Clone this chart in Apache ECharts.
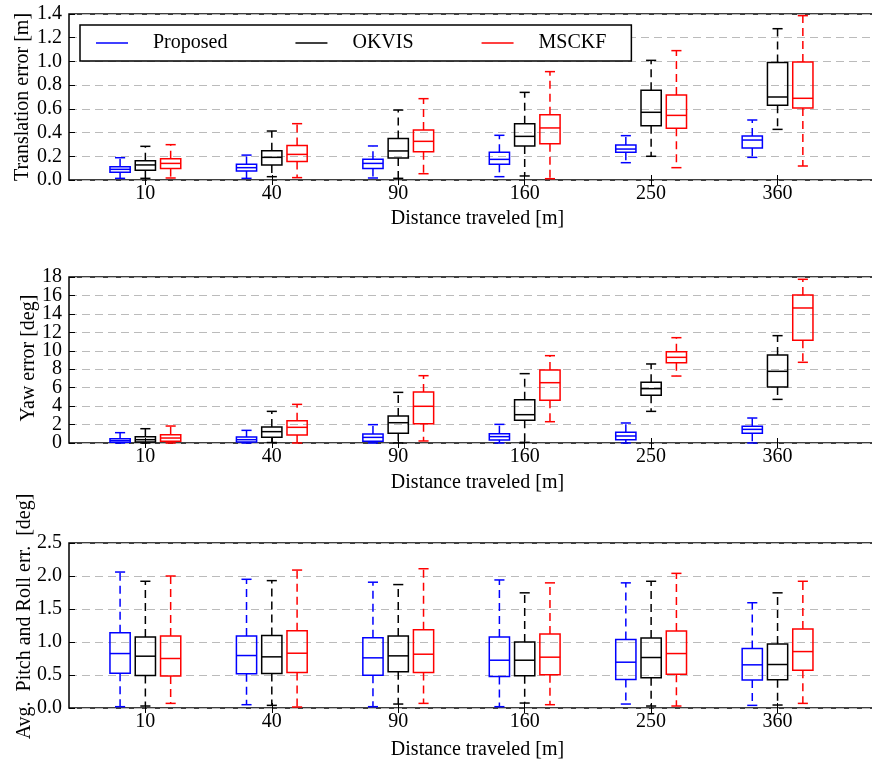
<!DOCTYPE html>
<html><head><meta charset="utf-8">
<script src="https://cdn.jsdelivr.net/npm/echarts@6/dist/echarts.min.js"></script>
<style>html,body{margin:0;padding:0;background:#fff}#c{width:872px;height:760px}</style>
</head><body><div id="c"></div>
<script>
// Categories (distance traveled [m])
var categories = ['10', '40', '90', '160', '250', '360'];
var seriesNames = ['Proposed', 'OKVIS', 'MSCKF'];
var seriesColors = ['#0000ff', '#000000', '#ff0000'];

// Each entry: [lowerWhisker, Q1, median, Q3, upperWhisker]
// Translation error [m]
var transProposed = [[0.014,0.065,0.090,0.112,0.188],[0.014,0.076,0.104,0.132,0.210],[0.017,0.098,0.140,0.174,0.287],[0.028,0.132,0.174,0.233,0.377],[0.146,0.233,0.261,0.295,0.374],[0.191,0.270,0.337,0.371,0.506]];
var transOKVIS    = [[0.014,0.082,0.127,0.163,0.284],[0.028,0.127,0.191,0.247,0.413],[0.014,0.186,0.245,0.351,0.590],[0.034,0.287,0.368,0.475,0.739],[0.200,0.458,0.571,0.756,1.009],[0.427,0.630,0.700,0.992,1.276]];
var transMSCKF    = [[0.017,0.096,0.140,0.180,0.298],[0.020,0.157,0.216,0.290,0.475],[0.053,0.239,0.326,0.422,0.686],[0.011,0.306,0.439,0.551,0.914],[0.104,0.436,0.545,0.717,1.091],[0.118,0.607,0.689,0.995,1.386]];

// Yaw error [deg]
var yawProposed = [[0.00,0.07,0.25,0.47,1.12],[0.00,0.11,0.36,0.65,1.37],[0.00,0.18,0.61,0.98,1.99],[0.00,0.33,0.69,1.01,2.02],[0.00,0.36,0.76,1.16,2.17],[0.00,1.05,1.48,1.81,2.71]];
var yawOKVIS    = [[0.00,0.11,0.36,0.69,1.55],[0.05,0.61,1.23,1.73,3.43],[0.00,1.05,2.20,2.93,5.49],[0.07,2.46,3.07,4.70,7.52],[3.43,5.17,5.89,6.58,8.57],[4.73,6.07,7.77,9.54,11.64]];
var yawMSCKF    = [[0.00,0.18,0.54,0.90,1.84],[0.00,0.87,1.70,2.42,4.19],[0.22,2.10,3.98,5.53,7.30],[2.31,4.63,6.54,7.91,9.47],[7.26,8.71,9.29,9.90,11.42],[8.75,11.13,14.64,16.05,17.75]];

// Avg. pitch and roll error [deg]
var prProposed = [[0.02,0.528,0.825,1.14,2.06],[0.05,0.518,0.795,1.09,1.95],[0.02,0.498,0.760,1.066,1.906],[0.02,0.478,0.724,1.076,1.94],[0.06,0.433,0.694,1.036,1.896],[0.04,0.423,0.654,0.90,1.595]];
var prOKVIS    = [[0.03,0.493,0.785,1.076,1.92],[0.04,0.523,0.775,1.097,1.93],[0.06,0.548,0.790,1.09,1.87],[0.075,0.488,0.724,1.00,1.745],[0.03,0.458,0.765,1.06,1.92],[0.045,0.428,0.659,0.97,1.745]];
var prMSCKF    = [[0.07,0.483,0.750,1.09,2.00],[0.015,0.538,0.830,1.17,2.09],[0.07,0.538,0.815,1.187,2.11],[0.05,0.503,0.770,1.12,1.896],[0.03,0.513,0.825,1.167,2.04],[0.07,0.573,0.855,1.197,1.92]];

// Y tick values
var transTicks = [0, 0.2, 0.4, 0.6, 0.8, 1.0, 1.2, 1.4];
var yawTicks = [0, 2, 4, 6, 8, 10, 12, 14, 16, 18];
var prTicks = [0, 0.5, 1.0, 1.5, 2.0, 2.5];

var yTicks = [
  {min:0, max:1.4, interval:0.2, dec:1, ticks: transTicks, name:'Translation error [m]', gap:36, pad:[0,0,0,0]},
  {min:0, max:18, interval:2, dec:0, ticks: yawTicks, name:'Yaw error [deg]', gap:30, pad:[0,0,0,4]},
  {min:0, max:2.5, interval:0.5, dec:1, ticks: prTicks, name:'Avg.  Pitch and Roll err.  [deg]', gap:34, pad:[0,0,0,18]}
];
var panels = [
  [transProposed, transOKVIS, transMSCKF],
  [yawProposed, yawOKVIS, yawMSCKF],
  [prProposed, prOKVIS, prMSCKF]
];

var FONT = 'Liberation Serif';
var FS = 20;
var offsets = [-0.2, 0, 0.2];
var boxW = 0.16;
var gridTops = [14, 277, 543];
var gridHeights = [166, 166, 165];
var xNameGaps = [29, 30, 32];
var catPos = categories.map(function(c, i){ return i + 1; });

function renderBox(color){
  return function(params, api){
    var x = api.value(0);
    var lo = api.value(1), q1 = api.value(2), md = api.value(3), q3 = api.value(4), hi = api.value(5);
    var pLo = api.coord([x, lo]), pQ1 = api.coord([x, q1]), pMd = api.coord([x, md]);
    var pQ3 = api.coord([x, q3]), pHi = api.coord([x, hi]);
    var w = api.size([boxW, 0])[0];
    var cx = pMd[0];
    var st = {stroke: color, lineWidth: 1.5, fill: null};
    var dash = {stroke: color, lineWidth: 1.5, lineDash: [8, 5], fill: null};
    return {type: 'group', children: [
      {type: 'rect', shape: {x: cx - w/2, y: pQ3[1], width: w, height: pQ1[1] - pQ3[1]}, style: st},
      {type: 'line', shape: {x1: cx - w/2, y1: pMd[1], x2: cx + w/2, y2: pMd[1]}, style: st},
      {type: 'line', shape: {x1: cx, y1: pQ3[1], x2: cx, y2: pHi[1]}, style: dash},
      {type: 'line', shape: {x1: cx, y1: pQ1[1], x2: cx, y2: pLo[1]}, style: dash},
      {type: 'line', shape: {x1: cx - w/4, y1: pHi[1], x2: cx + w/4, y2: pHi[1]}, style: st},
      {type: 'line', shape: {x1: cx - w/4, y1: pLo[1], x2: cx + w/4, y2: pLo[1]}, style: st}
    ]};
  };
}

function labelFmt(d){ return function(v){ return v.toFixed(d); }; }

var grids = [], xAxes = [], yAxes = [], series = [];
for (var g = 0; g < 3; g++) {
  grids.push({left: 69, top: gridTops[g], height: gridHeights[g], width: 835, show: true,
    outerBoundsMode: 'none', containLabel: false,
    borderColor: '#000', borderWidth: 1.5, backgroundColor: 'transparent'});
  xAxes.push({type: 'value', gridIndex: g, min: 0.396, max: 7.0, position: 'bottom',
    name: 'Distance traveled [m]', nameLocation: 'middle', nameGap: xNameGaps[g], nameMoveOverlap: false,
    nameTextStyle: {fontFamily: FONT, fontSize: FS, color: '#000', padding: [0, 18, 0, 0]},
    axisLine: {show: false},
    axisTick: {show: true, inside: true, length: 5, customValues: catPos, lineStyle: {color: '#000', width: 1}},
    axisLabel: {show: true, customValues: catPos, margin: 4, fontFamily: FONT, fontSize: FS, color: '#000',
      formatter: function(v){ var i = Math.round(v) - 1; return categories[i] || ''; }},
    splitLine: {show: false}});
  xAxes.push({type: 'value', gridIndex: g, min: 0.396, max: 7.0, position: 'top',
    axisLine: {show: false},
    axisTick: {show: true, inside: true, length: 5, customValues: catPos, lineStyle: {color: '#000', width: 1}},
    axisLabel: {show: false}, splitLine: {show: false}});
  var yt = yTicks[g];
  var evenTicks = yt.ticks.filter(function(v, i){ return i % 2 === 0; });
  var oddTicks = yt.ticks.filter(function(v, i){ return i % 2 === 1; });
  // main y axis: gridlines, ticks, name, labels at even-index ticks
  yAxes.push({type: 'value', gridIndex: g, position: 'left', min: yt.min, max: yt.max, interval: yt.interval,
    name: yt.name, nameLocation: 'middle', nameGap: yt.gap, nameMoveOverlap: false,
    nameTextStyle: {fontFamily: FONT, fontSize: FS, color: '#000', padding: yt.pad},
    axisLine: {show: false},
    axisTick: {show: true, inside: true, length: 6, lineStyle: {color: '#000', width: 1}},
    axisLabel: {margin: 7, fontFamily: FONT, fontSize: FS, color: '#000', hideOverlap: false,
      showMinLabel: true, showMaxLabel: true, customValues: evenTicks, formatter: labelFmt(yt.dec)},
    splitLine: {show: true, lineStyle: {color: '#bbbbbb', width: 1, type: [8, 5]}}});
  // companion y axis: labels at odd-index ticks only
  yAxes.push({type: 'value', gridIndex: g, position: 'left', offset: 0, min: yt.min, max: yt.max, interval: yt.interval,
    axisLine: {show: false}, axisTick: {show: false}, splitLine: {show: false},
    axisLabel: {margin: 7, fontFamily: FONT, fontSize: FS, color: '#000', hideOverlap: false,
      showMinLabel: true, showMaxLabel: true, customValues: oddTicks, formatter: labelFmt(yt.dec)}});
  for (var s = 0; s < 3; s++) {
    var arr = panels[g][s];
    var data = arr.map(function(d, i){ return [i + 1 + offsets[s]].concat(d); });
    series.push({type: 'custom', name: seriesNames[s], xAxisIndex: 2*g, yAxisIndex: 2*g,
      renderItem: renderBox(seriesColors[s]), data: data, itemStyle: {color: seriesColors[s]},
      encode: {x: 0, y: [1,2,3,4,5]}, clip: false, z: 3});
  }
}

var chart = echarts.init(document.getElementById('c'), null, {renderer: 'canvas'});
chart.setOption({
  animation: false,
  backgroundColor: '#fff',
  grid: grids, xAxis: xAxes, yAxis: yAxes, series: series,
  legend: {show: true, left: 80, top: 25, orient: 'horizontal', selectedMode: false,
    data: seriesNames.map(function(n, i){ return {name: n, icon: 'rect', itemStyle: {color: seriesColors[i]}}; }),
    itemWidth: 32, itemHeight: 1.5, itemGap: 68,
    padding: [8, 25, 8, 16], borderColor: '#000', borderWidth: 1.5, backgroundColor: '#fff',
    textStyle: {fontFamily: FONT, fontSize: FS, color: '#000', padding: [0, 0, 0, 20]}, z: 10}
});
</script></body></html>
